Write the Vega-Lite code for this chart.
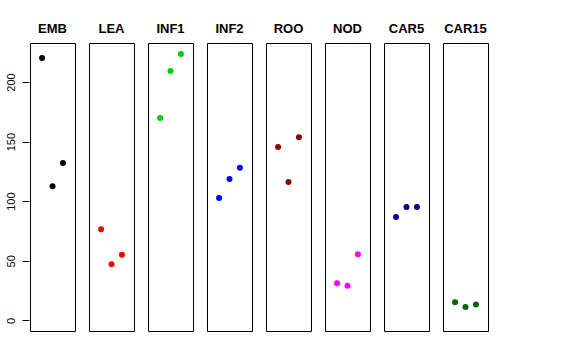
{
  "$schema": "https://vega.github.io/schema/vega-lite/v6.json",
  "padding": {"left": 5, "top": 23, "right": 0, "bottom": 0},
  "background": "white",
  "data": {"values": [
    {"panel": "EMB", "x": 1, "y": 220.1},
    {"panel": "EMB", "x": 2, "y": 112.5},
    {"panel": "EMB", "x": 3, "y": 132.0},
    {"panel": "LEA", "x": 1, "y": 76.4},
    {"panel": "LEA", "x": 2, "y": 47.0},
    {"panel": "LEA", "x": 3, "y": 55.1},
    {"panel": "INF1", "x": 1, "y": 169.8},
    {"panel": "INF1", "x": 2, "y": 209.3},
    {"panel": "INF1", "x": 3, "y": 223.5},
    {"panel": "INF2", "x": 1, "y": 102.7},
    {"panel": "INF2", "x": 2, "y": 118.6},
    {"panel": "INF2", "x": 3, "y": 128.1},
    {"panel": "ROO", "x": 1, "y": 145.5},
    {"panel": "ROO", "x": 2, "y": 116.1},
    {"panel": "ROO", "x": 3, "y": 153.6},
    {"panel": "NOD", "x": 1, "y": 31.1},
    {"panel": "NOD", "x": 2, "y": 29.1},
    {"panel": "NOD", "x": 3, "y": 55.4},
    {"panel": "CAR5", "x": 1, "y": 86.7},
    {"panel": "CAR5", "x": 2, "y": 95.1},
    {"panel": "CAR5", "x": 3, "y": 95.1},
    {"panel": "CAR15", "x": 1, "y": 15.1},
    {"panel": "CAR15", "x": 2, "y": 11.2},
    {"panel": "CAR15", "x": 3, "y": 13.2}
  ]},
  "facet": {
    "column": {
      "field": "panel",
      "type": "nominal",
      "sort": ["EMB", "LEA", "INF1", "INF2", "ROO", "NOD", "CAR5", "CAR15"],
      "header": {
        "title": null,
        "labelFont": "Liberation Sans",
        "labelFontWeight": "bold",
        "labelFontSize": 13,
        "labelColor": "black",
        "labelPadding": 6
      }
    }
  },
  "spacing": 12,
  "spec": {
    "width": 45,
    "height": 288,
    "mark": {"type": "circle", "size": 36, "opacity": 1},
    "encoding": {
      "x": {
        "field": "x",
        "type": "quantitative",
        "scale": {"domain": [-0.16, 4.16], "nice": false, "zero": false},
        "axis": null
      },
      "y": {
        "field": "y",
        "type": "quantitative",
        "scale": {"domain": [-8.95, 232.75], "nice": false, "zero": false},
        "axis": {
          "title": null,
          "values": [0, 50, 100, 150, 200],
          "domain": false,
          "grid": false,
          "tickSize": 7,
          "tickColor": "black",
          "labelAngle": -90,
          "labelAlign": "center",
          "labelBaseline": "bottom",
          "labelPadding": 6,
          "labelFont": "Liberation Sans",
          "labelFontSize": 11,
          "labelColor": "black"
        }
      },
      "color": {
        "field": "panel",
        "type": "nominal",
        "scale": {
          "domain": ["EMB", "LEA", "INF1", "INF2", "ROO", "NOD", "CAR5", "CAR15"],
          "range": ["#000000", "#FF0000", "#00CD00", "#0000FF", "#8B0000", "#FF00FF", "#00008B", "#006400"]
        },
        "legend": null
      }
    }
  },
  "config": {
    "view": {"stroke": "black", "strokeWidth": 1}
  }
}
